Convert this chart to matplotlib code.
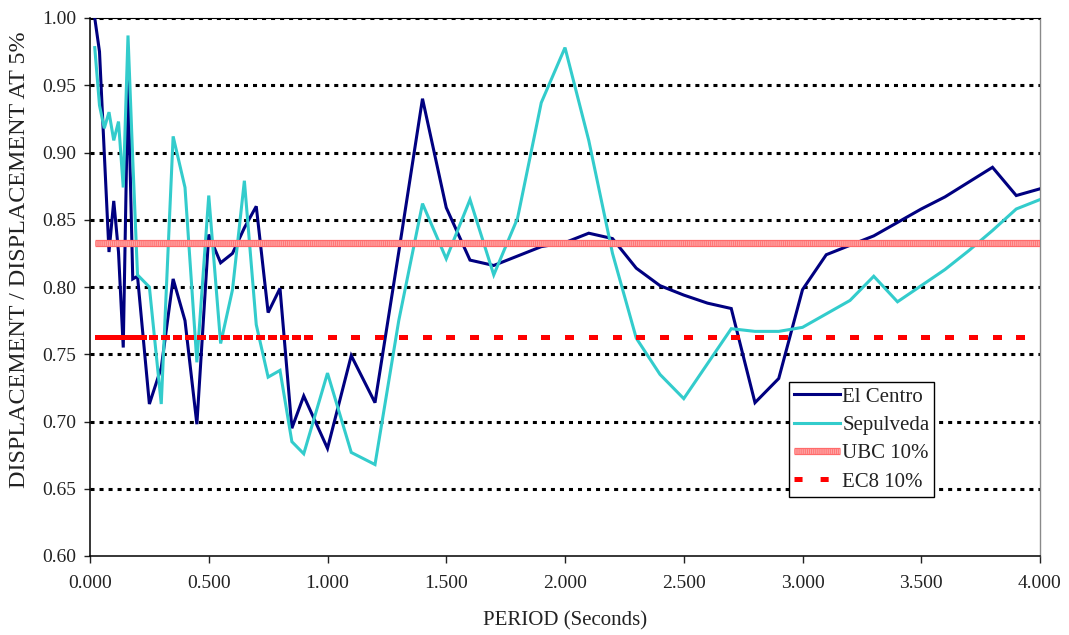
import matplotlib
matplotlib.use("Agg")
import matplotlib.pyplot as plt
from matplotlib.lines import Line2D
from matplotlib.legend_handler import HandlerTuple

# Periods (s) at which the spectra were evaluated
periods = [0.02, 0.04, 0.06, 0.08, 0.10, 0.12, 0.14, 0.16, 0.18, 0.20,
           0.25, 0.30, 0.35, 0.40, 0.45, 0.50, 0.55, 0.60, 0.65, 0.70,
           0.75, 0.80, 0.85, 0.90,
           1.0, 1.1, 1.2, 1.3, 1.4, 1.5, 1.6, 1.7, 1.8, 1.9, 2.0,
           2.1, 2.2, 2.3, 2.4, 2.5, 2.6, 2.7, 2.8, 2.9, 3.0,
           3.1, 3.2, 3.3, 3.4, 3.5, 3.6, 3.7, 3.8, 3.9, 4.0]

el_centro = [1.000, 0.975, 0.900, 0.826, 0.864, 0.826, 0.755, 0.955, 0.806, 0.808,
             0.713, 0.740, 0.806, 0.775, 0.698, 0.839, 0.818, 0.825, 0.844, 0.860,
             0.781, 0.799, 0.695, 0.719,
             0.680, 0.749, 0.714, 0.826, 0.940, 0.859, 0.820, 0.816, 0.823, 0.830, 0.833,
             0.840, 0.836, 0.814, 0.801, 0.794, 0.788, 0.784, 0.714, 0.732, 0.798,
             0.824, 0.831, 0.838, 0.848, 0.858, 0.867, 0.878, 0.889, 0.868, 0.873]

sepulveda = [0.978, 0.935, 0.918, 0.930, 0.909, 0.923, 0.874, 0.987, 0.895, 0.809,
             0.800, 0.713, 0.912, 0.874, 0.744, 0.868, 0.758, 0.798, 0.879, 0.772,
             0.733, 0.738, 0.685, 0.676,
             0.736, 0.677, 0.668, 0.775, 0.862, 0.821, 0.865, 0.809, 0.851, 0.937, 0.978,
             0.909, 0.825, 0.762, 0.735, 0.717, 0.743, 0.769, 0.767, 0.767, 0.770,
             0.780, 0.790, 0.808, 0.789, 0.801, 0.813, 0.827, 0.842, 0.858, 0.865]

ubc_10 = [0.833] * len(periods)
ec8_10 = [0.763] * len(periods)

x_ticks = [0.0, 0.5, 1.0, 1.5, 2.0, 2.5, 3.0, 3.5, 4.0]
y_ticks = [0.60, 0.65, 0.70, 0.75, 0.80, 0.85, 0.90, 0.95, 1.00]

plt.rcParams['font.family'] = ['Liberation Serif', 'DejaVu Serif']
plt.rcParams['lines.scale_dashes'] = False

TXT = '#222222'
W, H = 1069, 635
fig = plt.figure(figsize=(W / 100, H / 100), dpi=100)
ax = fig.add_axes([90 / W, 1 - 556 / H, 950 / W, 538 / H])

ax.set_xlim(0, 4.0)
ax.set_ylim(0.60, 1.00)
ax.set_xticks(x_ticks)
ax.set_yticks(y_ticks)
ax.set_xticklabels([f"{v:.3f}" for v in x_ticks])
ax.set_yticklabels([f"{v:.2f}" for v in y_ticks])
ax.tick_params(axis='both', labelsize=14, colors=TXT, direction='out', width=1.0)
ax.tick_params(axis='y', length=4, pad=6)
ax.tick_params(axis='x', length=5, pad=9)

# dotted horizontal gridlines
for yv in y_ticks[1:]:
    ax.axhline(yv, color='black', lw=2.2, linestyle=(0, (2.9, 3.6)), zorder=1)

for side in ['left', 'bottom']:
    ax.spines[side].set_color('black')
    ax.spines[side].set_linewidth(1.1)
ax.spines['top'].set_color('black')
ax.spines['top'].set_linewidth(0.8)
ax.spines['right'].set_color('#8a8a8a')
ax.spines['right'].set_linewidth(1.0)

# response spectra ratios
l_ec, = ax.plot(periods, el_centro, color='#000080', lw=2.2, zorder=3,
                solid_joinstyle='miter')
l_sp, = ax.plot(periods, sepulveda, color='#33CCCC', lw=2.2, zorder=4,
                solid_joinstyle='miter')

# UBC 10% level: patterned pink band
ubc_styles = [dict(color='#ff6a6a', lw=5.2, solid_capstyle='butt'),
              dict(color='#ffa4a4', lw=3.4, solid_capstyle='butt'),
              dict(color='#ff6f6f', lw=3.4, linestyle=(0, (0.6, 0.9)),
                   dash_capstyle='butt')]
ubc_handles = []
for st in ubc_styles:
    h, = ax.plot(periods, ubc_10, zorder=5, **st)
    ubc_handles.append(h)

# EC8 10% level: the dash pattern restarts on every segment between periods
ec8_dash = (0, (5.8, 13.0))
for i in range(len(periods) - 1):
    ax.plot(periods[i:i + 2], ec8_10[i:i + 2], color='#ff0000', lw=3.6,
            linestyle=ec8_dash, dash_capstyle='butt', antialiased=False,
            zorder=6)
h_ec8 = Line2D([], [], color='#ff0000', lw=3.6, linestyle=ec8_dash,
               dash_capstyle='butt', antialiased=False)

leg = ax.legend([l_ec, l_sp, tuple(ubc_handles), h_ec8],
                ['El Centro', 'Sepulveda', 'UBC 10%', 'EC8 10%'],
                handler_map={tuple: HandlerTuple(ndivide=1, pad=0)},
                loc='lower left', bbox_to_anchor=(0.736, 0.110, 0.152, 0.213),
                mode='expand', fontsize=15, frameon=True, fancybox=False,
                edgecolor='black', framealpha=1, handlelength=2.2,
                handletextpad=0.1, borderpad=0.25, labelspacing=0.42,
                borderaxespad=0)
leg.get_frame().set_linewidth(1.0)
leg.set_zorder(10)
for t in leg.get_texts():
    t.set_color(TXT)

fig.text(565 / W, 1 - 621 / H, 'PERIOD (Seconds)', ha='center', va='center',
         fontsize=15, color=TXT)
fig.text(20 / W, 1 - 260 / H, 'DISPLACEMENT / DISPLACEMENT AT 5%', ha='center',
         va='center', rotation=90, fontsize=17.3, color=TXT)

fig.savefig('out.png', dpi=100)
